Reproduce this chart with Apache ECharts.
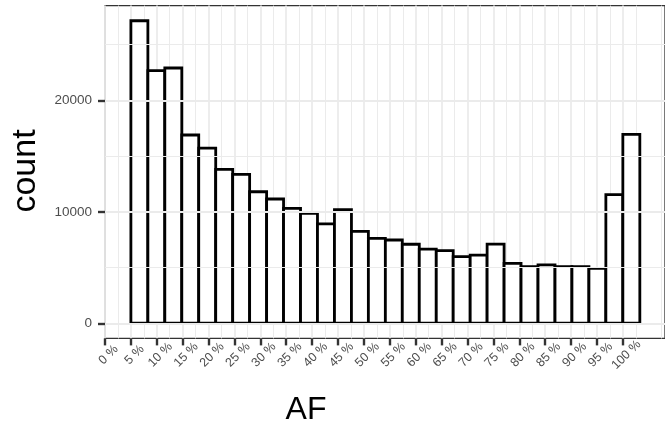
<!DOCTYPE html>
<html>
<head>
<meta charset="utf-8">
<script src="https://cdn.jsdelivr.net/npm/echarts@6/dist/echarts.min.js"></script>
<style>
  html, body { margin: 0; padding: 0; background: #fff; }
  #chart { width: 665px; height: 435px; }
</style>
</head>
<body>
<div id="chart"></div>
<script>
// Histogram of allele frequency (AF, in %): bin edges and counts per bin
const binEdges = [5.00, 8.28, 11.55, 14.83, 18.10, 21.38, 24.66, 27.93, 31.21, 34.48,
                  37.76, 41.03, 44.31, 47.59, 50.86, 54.14, 57.41, 60.69, 63.97, 67.24,
                  70.52, 73.79, 77.07, 80.34, 83.62, 86.90, 90.17, 93.45, 96.72, 100.00,
                  103.28];
const counts = [27140, 22660, 22900, 16890, 15720, 13810, 13360, 11800, 11150, 10310,
                9860, 8910, 10190, 8250, 7620, 7470, 7090, 6660, 6510, 5980,
                6120, 7100, 5380, 5080, 5230, 5080, 5080, 4930, 11540, 16950];

// Axis breaks
const xTickValues = [0, 5, 10, 15, 20, 25, 30, 35, 40, 45, 50, 55, 60, 65, 70, 75, 80, 85, 90, 95, 100];
const yTickValues = [0, 10000, 20000];
const yMinorValues = [5000, 15000, 25000];

// Panel limits (data range padded on both sides)
const xLimits = [0, 108.14];
const yLimits = [-1357, 28497];

const bins = counts.map((c, i) => [binEdges[i], binEdges[i + 1], c]);

const FONT = 'Liberation Sans, Arial, Helvetica, sans-serif';
const GRID_COLOR = '#ebebeb';

const chart = echarts.init(document.getElementById('chart'), null, { renderer: 'canvas' });

chart.setOption({
  animation: false,
  backgroundColor: '#ffffff',
  grid: {
    left: 105, top: 5.6, right: -11, bottom: 96.6,
    show: true, borderColor: '#333333', borderWidth: 1.3, backgroundColor: '#ffffff',
    containLabel: false
  },
  xAxis: {
    type: 'value',
    min: xLimits[0], max: xLimits[1], interval: 5,
    axisLine: { show: false, onZero: false },
    axisTick: {
      show: true, customValues: xTickValues, length: 7,
      lineStyle: { color: '#333333', width: 2.4 }
    },
    minorTick: { show: false, splitNumber: 2 },
    axisLabel: {
      customValues: xTickValues,
      formatter: v => v + ' %',
      rotate: 45, align: 'center', verticalAlign: 'middle',
      padding: [0, 0, 0, 10],
      margin: 20, color: '#4d4d4d', fontSize: 12.5, fontFamily: FONT
    },
    splitLine: { show: true, lineStyle: { color: GRID_COLOR, width: 1.8 } },
    minorSplitLine: { show: true, lineStyle: { color: GRID_COLOR, width: 1 } }
  },
  yAxis: {
    type: 'value',
    min: yLimits[0], max: yLimits[1],
    axisLine: { show: false, onZero: false },
    axisTick: {
      show: true, customValues: yTickValues, length: 7,
      lineStyle: { color: '#333333', width: 2.4 }
    },
    axisLabel: {
      customValues: yTickValues,
      formatter: v => String(v),
      margin: 13, color: '#4d4d4d', fontSize: 13.5, fontFamily: FONT
    },
    splitLine: { show: false }
  },
  series: [
    {
      // horizontal panel grid lines
      type: 'line',
      data: [],
      z: 1,
      silent: true,
      markLine: {
        silent: true,
        symbol: 'none',
        label: { show: false },
        animation: false,
        data: yTickValues.map(v => ({ yAxis: v, lineStyle: { color: GRID_COLOR, width: 1.8, type: 'solid' } }))
          .concat(yMinorValues.map(v => ({ yAxis: v, lineStyle: { color: GRID_COLOR, width: 1, type: 'solid' } })))
      }
    },
    {
      type: 'custom',
      z: 3,
      data: bins,
      encode: { x: [0, 1], y: 2 },
      renderItem: function (params, api) {
        const p0 = api.coord([api.value(0), api.value(2)]);
        const p1 = api.coord([api.value(1), 0]);
        return {
          type: 'rect',
          shape: { x: p0[0], y: p0[1], width: p1[0] - p0[0], height: p1[1] - p0[1] },
          style: { fill: '#ffffff', stroke: '#000000', lineWidth: 2.8 }
        };
      }
    }
  ],
  graphic: [
    {
      type: 'text',
      x: 26, y: 171,
      rotation: Math.PI / 2,
      style: {
        text: 'count', fill: '#000000', fontSize: 34, fontFamily: FONT,
        align: 'center', verticalAlign: 'middle'
      }
    },
    {
      type: 'text',
      x: 306, y: 410,
      style: {
        text: 'AF', fill: '#000000', fontSize: 32, fontFamily: FONT,
        align: 'center', verticalAlign: 'middle'
      }
    }
  ]
});
</script>
</body>
</html>
